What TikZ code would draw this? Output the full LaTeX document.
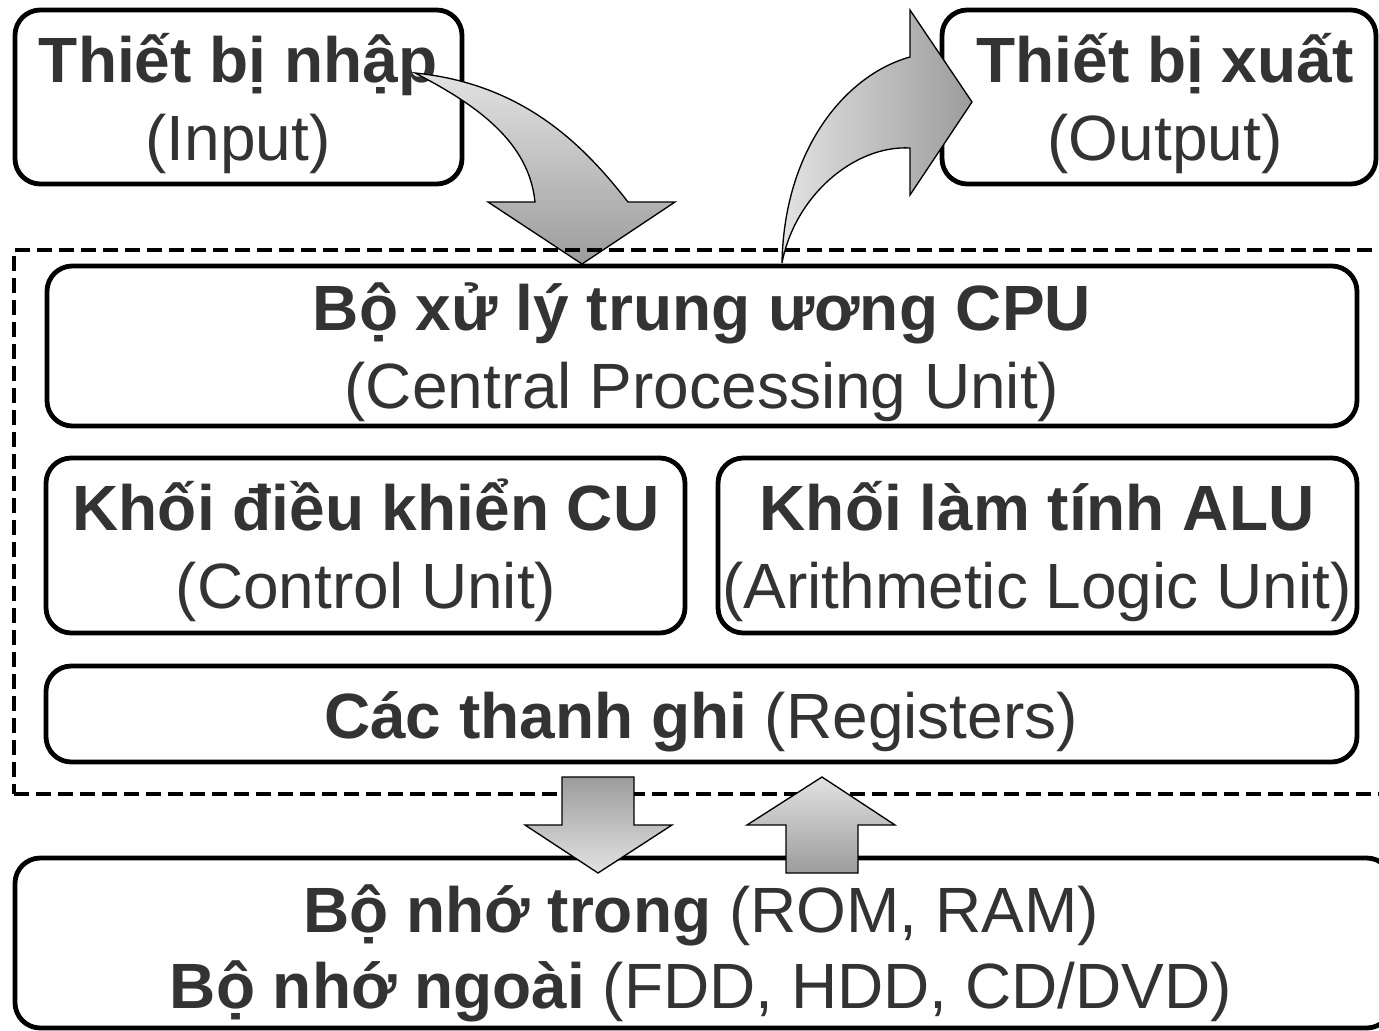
\documentclass[tikz,border=0pt]{standalone}
\usepackage{fontspec}
\setmainfont{Liberation Sans}
\usetikzlibrary{fit}
\definecolor{ink}{HTML}{333333}
\definecolor{shadelight}{HTML}{E2E2E2}
\definecolor{shadedark}{HTML}{9C9C9C}
\begin{document}
\begin{tikzpicture}[x=0.75pt, y=-0.75pt,
  box/.style={draw=black, line width=3.6pt, rounded corners=19pt, inner sep=0pt},
  frame/.style={draw=black, line width=3.2pt, dash pattern=on 11pt off 5.5pt, inner sep=0pt},
  lbl/.style={anchor=base, inner sep=0pt, text=ink, font=\fontsize{48}{56}\selectfont},
  blockarrow/.style={draw=black, line width=1pt, line join=miter}]
\useasboundingbox (0,0) rectangle (1379,1031);

% boxes
\node[box, fit={(15,10) (462,184)}] (inbox) {};
\node[box, fit={(942,10) (1376,184)}] (outbox) {};
\node[box, fit={(47,266) (1357,426)}] (cpu) {};
\node[box, fit={(46,458) (685,633)}] (cu) {};
\node[box, fit={(718,458) (1357,633)}] (alu) {};
\node[box, fit={(46,666) (1357,762)}] (reg) {};
\node[box, fit={(15,858) (1392,1028)}] (mem) {};

% labels
\node[lbl] (inT) at (238,83) {\textbf{Thiết bị nhập}};
\node[lbl] (inS) at (238,161) {(Input)};
\node[lbl] (outT) at (1165,83) {\textbf{Thiết bị xuất}};
\node[lbl] (outS) at (1165,161) {(Output)};
\node[lbl] (cpuT) at (702,330) {\textbf{Bộ xử lý trung ương CPU}};
\node[lbl] (cpuS) at (702,408) {(Central Processing Unit)};
\node[lbl] (cuT) at (366,530) {\textbf{Khối điều khiển CU}};
\node[lbl] (cuS) at (366,608) {(Control Unit)};
\node[lbl] (aluT) at (1037,530) {\textbf{Khối làm tính ALU}};
\node[lbl] (aluS) at (1037,608) {(Arithmetic Logic Unit)};
\node[lbl] (regT) at (701,738) {\textbf{Các thanh ghi} (Registers)};
\node[lbl] (memA) at (701,932) {\textbf{Bộ nhớ trong} (ROM, RAM)};
\node[lbl] (memB) at (701,1008) {\textbf{Bộ nhớ ngoài} (FDD, HDD, CD/DVD)};

% curved arrow from the input device down into the CPU
\shadedraw[blockarrow, top color=shadelight, bottom color=shadedark]
  (415,73) .. controls (525,84) and (585,147) .. (628,202)
  -- (675,202) -- (582,264) -- (488,202) -- (535,202)
  .. controls (529,142) and (477,105) .. (415,73) -- cycle;

% curved arrow from the CPU up to the output device
\shadedraw[blockarrow, left color=shadelight, right color=shadedark]
  (782,263) .. controls (784,150) and (845,75) .. (910,57)
  -- (910,10) -- (972,102) -- (910,195) -- (910,148)
  .. controls (855,145) and (795,195) .. (782,263) -- cycle;

% system boundary
\node[frame, fit={(14,250) (1400,794)}] (sys) {};

% arrows between registers and memory
\shadedraw[blockarrow, top color=shadedark, bottom color=shadelight]
  (562,777) -- (634,777) -- (634,825) -- (672,825) -- (598,873)
  -- (525,825) -- (562,825) -- cycle;
\shadedraw[blockarrow, top color=shadelight, bottom color=shadedark]
  (786,873) -- (858,873) -- (858,825) -- (895,825) -- (822,777)
  -- (747,825) -- (786,825) -- cycle;
\end{tikzpicture}
\end{document}
